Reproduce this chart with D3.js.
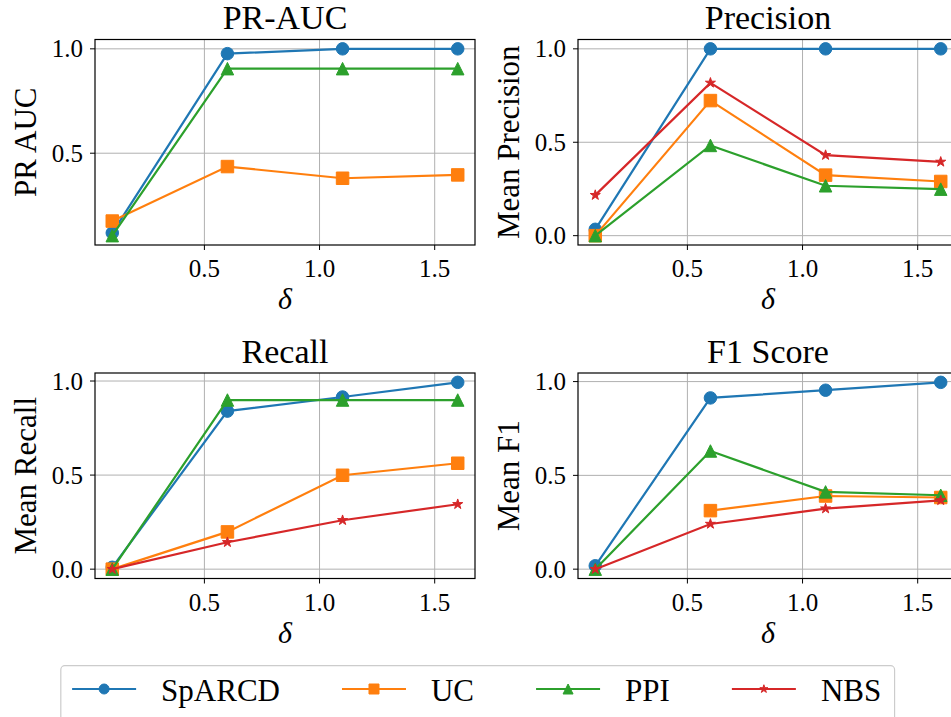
<!DOCTYPE html>
<html>
<head>
<meta charset="utf-8">
<script src="https://cdn.jsdelivr.net/npm/d3@7"></script>
<style>
    body { margin: 0; background: #fff; }
    svg text { font-family: "Liberation Serif", "DejaVu Serif", serif; fill: #000; }
</style>
</head>
<body>
<svg id="chart" width="951" height="717"></svg>
<script>

// data
const deltas = [0.1, 0.6, 1.1, 1.6];
const methods = ["SpARCD", "UC", "PPI", "NBS"];
const colors = ["#1f77b4", "#ff7f0e", "#2ca02c", "#d62728"];
const markers = ["circle", "square", "triangle", "star"];
const xTicks = [0.5, 1.0, 1.5];
const yTicks = [0.0, 0.5, 1.0];

// one row per method, null = no value / not drawn
const prAuc = [
    [0.118, 0.977, 1.0, 1.0],
    [0.175, 0.436, 0.380, 0.396],
    [0.105, 0.905, 0.905, 0.905],
    null
];
const precision = [
    [0.034, 1.0, 1.0, 1.0],
    [0.0, 0.723, 0.324, 0.290],
    [0.0, 0.483, 0.267, 0.249],
    [0.217, 0.818, 0.431, 0.395]
];
const recall = [
    [0.01, 0.840, 0.915, 0.993],
    [0.0, 0.198, 0.499, 0.563],
    [0.0, 0.899, 0.899, 0.899],
    [0.0, 0.143, 0.260, 0.345]
];
const f1 = [
    [0.018, 0.913, 0.954, 0.996],
    [null, 0.312, 0.390, 0.382],
    [0.0, 0.630, 0.412, 0.394],
    [0.0, 0.241, 0.323, 0.367]
];


/* * * * * * * * * * * * * *
*      class MetricPanel     *
* * * * * * * * * * * * * */

class MetricPanel {

    constructor(svg, values, title, yLabel, box){
        this.svg = svg;
        this.values = values;
        this.title = title;
        this.yLabel = yLabel;
        this.box = box;

        this.initVis()
    }

    initVis(){
        let vis = this;
        let b = vis.box;

        vis.g = vis.svg.append("g").attr("class", "panel");

        // autoscale like matplotlib, 5% margins
        let xExt = d3.extent(deltas);
        let xPad = (xExt[1] - xExt[0]) * 0.05;
        vis.x = d3.scaleLinear()
            .domain([xExt[0] - xPad, xExt[1] + xPad])
            .range([b.left, b.right]);

        let all = vis.values.filter(d => d).flat().filter(v => v !== null);
        let yExt = d3.extent(all);
        let yPad = (yExt[1] - yExt[0]) * 0.05;
        vis.y = d3.scaleLinear()
            .domain([yExt[0] - yPad, yExt[1] + yPad])
            .range([b.bottom, b.top]);

        vis.yTicks = yTicks.filter(t => t >= vis.y.domain()[0] && t <= vis.y.domain()[1]);

        // grid
        vis.g.append("g").selectAll("line.gx")
            .data(xTicks).enter().append("line")
            .attr("x1", d => vis.x(d)).attr("x2", d => vis.x(d))
            .attr("y1", b.top).attr("y2", b.bottom)
            .attr("stroke", "#b0b0b0").attr("stroke-width", 1);
        vis.g.append("g").selectAll("line.gy")
            .data(vis.yTicks).enter().append("line")
            .attr("x1", b.left).attr("x2", b.right)
            .attr("y1", d => vis.y(d)).attr("y2", d => vis.y(d))
            .attr("stroke", "#b0b0b0").attr("stroke-width", 1);

        vis.drawSeries();

        // frame
        vis.g.append("rect")
            .attr("x", b.left).attr("y", b.top)
            .attr("width", b.right - b.left).attr("height", b.bottom - b.top)
            .attr("fill", "none").attr("stroke", "#000").attr("stroke-width", 1.2);

        // ticks + labels
        let fmt = d3.format(".1f");
        vis.g.append("g").selectAll("line.tx")
            .data(xTicks).enter().append("line")
            .attr("x1", d => vis.x(d)).attr("x2", d => vis.x(d))
            .attr("y1", b.bottom).attr("y2", b.bottom + 5)
            .attr("stroke", "#000");
        vis.g.append("g").selectAll("text")
            .data(xTicks).enter().append("text")
            .attr("x", d => vis.x(d)).attr("y", b.bottom + 32)
            .attr("text-anchor", "middle")
            .style("font-size", "25px")
            .text(d => fmt(d));

        vis.g.append("g").selectAll("line.ty")
            .data(vis.yTicks).enter().append("line")
            .attr("x1", b.left - 5).attr("x2", b.left)
            .attr("y1", d => vis.y(d)).attr("y2", d => vis.y(d))
            .attr("stroke", "#000");
        vis.g.append("g").selectAll("text")
            .data(vis.yTicks).enter().append("text")
            .attr("x", b.left - 12).attr("y", d => vis.y(d) + 8.5)
            .attr("text-anchor", "end")
            .style("font-size", "25px")
            .text(d => fmt(d));

        // title and axis labels
        vis.g.append("text")
            .attr("x", (b.left + b.right) / 2).attr("y", b.top - 10.5)
            .attr("text-anchor", "middle")
            .style("font-size", "34px")
            .text(vis.title);

        vis.g.append("text")
            .attr("x", (b.left + b.right) / 2).attr("y", b.bottom + 64)
            .attr("text-anchor", "middle")
            .style("font-size", "30px").style("font-style", "italic")
            .text("δ");

        vis.g.append("text")
            .attr("transform", "translate(" + (b.left - 59) + "," + ((b.top + b.bottom) / 2) + ") rotate(-90)")
            .attr("text-anchor", "middle")
            .style("font-size", "31px")
            .text(vis.yLabel);
    }

    drawSeries(){
        let vis = this;

        vis.values.forEach((row, i) => {
            if (!row) return;
            let pts = deltas.map((d, j) => ({x: d, y: row[j]}));

            let line = d3.line()
                .defined(p => p.y !== null)
                .x(p => vis.x(p.x))
                .y(p => vis.y(p.y));

            vis.g.append("path")
                .datum(pts)
                .attr("d", line)
                .attr("fill", "none")
                .attr("stroke", colors[i])
                .attr("stroke-width", 2.2);

            vis.g.append("g").selectAll("path")
                .data(pts.filter(p => p.y !== null))
                .enter().append("path")
                .attr("d", markerPath(markers[i], 1))
                .attr("transform", p => "translate(" + vis.x(p.x) + "," + vis.y(p.y) + ")")
                .attr("fill", colors[i])
                .attr("stroke", colors[i])
                .attr("stroke-width", 1);
        });
    }
}

// matplotlib-like marker outlines, centred at 0,0
function markerPath(kind, scale){
    let m = 12.5 * scale;
    let p = d3.path();
    if (kind === "circle") {
        p.arc(0, 0, m / 2, 0, 2 * Math.PI);
    } else if (kind === "square") {
        p.rect(-m / 2, -m / 2, m, m);
    } else if (kind === "triangle") {
        p.moveTo(0, -m / 2); p.lineTo(m / 2, m / 2); p.lineTo(-m / 2, m / 2); p.closePath();
    } else {
        let ro = 5.3 * scale, ri = ro * 0.381966;
        for (let k = 0; k < 10; k++) {
            let r = k % 2 ? ri : ro;
            let a = -Math.PI / 2 + k * Math.PI / 5;
            if (k === 0) p.moveTo(r * Math.cos(a), r * Math.sin(a));
            else p.lineTo(r * Math.cos(a), r * Math.sin(a));
        }
        p.closePath();
    }
    return p.toString();
}

let svg = d3.select("#chart");

new MetricPanel(svg, prAuc, "PR-AUC", "PR AUC", {left: 95, right: 475, top: 39.5, bottom: 245});
new MetricPanel(svg, precision, "Precision", "Mean Precision", {left: 578, right: 958, top: 39.5, bottom: 245});
new MetricPanel(svg, recall, "Recall", "Mean Recall", {left: 95, right: 475, top: 373, bottom: 578.5});
new MetricPanel(svg, f1, "F1 Score", "Mean F1", {left: 578, right: 958, top: 373, bottom: 578.5});

// legend, laid out from measured text widths
let legend = svg.append("g").attr("class", "legend");
let frame = legend.append("rect");
let items = legend.selectAll("g.item")
    .data(methods).enter().append("g").attr("class", "item");

items.append("text")
    .attr("y", 700.7)
    .style("font-size", "31px")
    .text(d => d);

let widths = [];
items.select("text").each(function(){ widths.push(this.getComputedTextLength()); });

let handleLen = 64, textGap = 89, colGap = 62, padL = 11.3, padR = 13.4;
let total = padL + padR + d3.sum(widths) + methods.length * textGap + (methods.length - 1) * colGap;
let cx = 477.7;
let xPos = cx - total / 2 + padL;

items.each(function(d, i){
    let item = d3.select(this);
    item.attr("transform", "translate(" + xPos + ",0)");
    item.append("line")
        .attr("x1", 0).attr("x2", handleLen)
        .attr("y1", 689).attr("y2", 689)
        .attr("stroke", colors[i]).attr("stroke-width", 2.2);
    item.append("path")
        .attr("d", markerPath(markers[i], 0.8))
        .attr("transform", "translate(" + handleLen / 2 + ",689)")
        .attr("fill", colors[i]).attr("stroke", colors[i]);
    item.select("text").attr("x", textGap);
    xPos += textGap + widths[i] + colGap;
});

frame
    .attr("x", cx - total / 2).attr("y", 665.7)
    .attr("width", total).attr("height", 80)
    .attr("rx", 4)
    .attr("fill", "#fff").attr("stroke", "#cccccc").attr("stroke-width", 1.2);

</script>
</body>
</html>
